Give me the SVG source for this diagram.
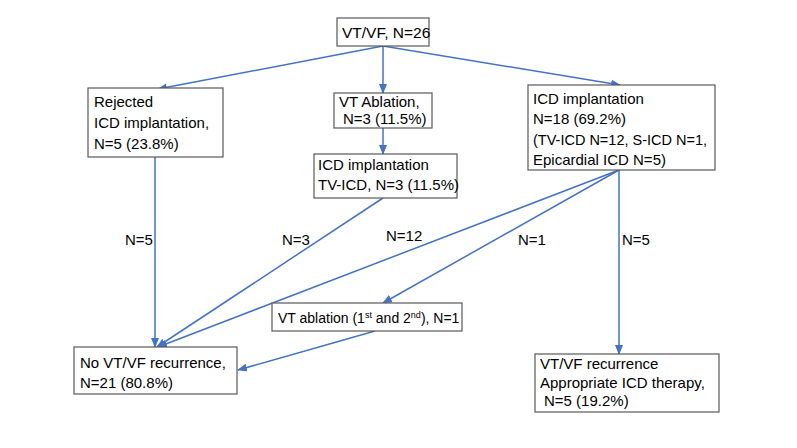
<svg xmlns="http://www.w3.org/2000/svg" width="797" height="448" viewBox="0 0 797 448">
<style>
.box{fill:#fff;stroke:#595959;stroke-width:1.2}
.t{font-family:"Liberation Sans",Arial,sans-serif;font-size:15px;fill:#000}
.c{fill:none;stroke:#4472C4;stroke-width:1.5}
.sup{font-size:9px}
</style>
<defs>
<marker id="ah" markerUnits="userSpaceOnUse" markerWidth="10" markerHeight="8" refX="9" refY="4" orient="auto">
<path d="M0,0 L10,4 L0,8 Z" fill="#4472C4"/>
</marker>
</defs>
<rect width="797" height="448" fill="#fff"/>
<g id="connectors">
<line class="c" x1="383" y1="46" x2="158" y2="89" marker-end="url(#ah)"/>
<line class="c" x1="383" y1="46" x2="383" y2="93" marker-end="url(#ah)"/>
<line class="c" x1="383" y1="46" x2="620" y2="85" marker-end="url(#ah)"/>
<line class="c" x1="383" y1="128" x2="383" y2="154" marker-end="url(#ah)"/>
<line class="c" x1="155" y1="157" x2="155" y2="347" marker-end="url(#ah)"/>
<line class="c" x1="383" y1="198" x2="157" y2="347" marker-end="url(#ah)"/>
<line class="c" x1="619" y1="170" x2="158" y2="347" marker-end="url(#ah)"/>
<line class="c" x1="619" y1="170" x2="383" y2="303" marker-end="url(#ah)"/>
<line class="c" x1="619" y1="170" x2="619" y2="354" marker-end="url(#ah)"/>
<line class="c" x1="375" y1="331" x2="238" y2="370" marker-end="url(#ah)"/>
<text class="t" x="125" y="245">N=5</text>
<text class="t" x="282" y="245">N=3</text>
<text class="t" x="386" y="241">N=12</text>
<text class="t" x="518" y="245">N=1</text>
<text class="t" x="622" y="245">N=5</text>
</g>
<g id="n_vtvf">
<rect class="box" x="337" y="18" width="92" height="28"/>
<text class="t" x="342" y="38" style="font-size:15.5px">VT/VF, N=26</text>
</g>
<g id="n_rejected">
<rect class="box" x="88" y="88" width="135" height="69"/>
<text class="t" x="94" y="107">Rejected</text>
<text class="t" x="94" y="128">ICD implantation,</text>
<text class="t" x="94" y="149">N=5 (23.8%)</text>
</g>
<g id="n_ablation">
<rect class="box" x="334" y="93" width="98" height="35"/>
<text class="t" x="339" y="107">VT Ablation,</text>
<text class="t" x="343" y="124">N=3 (11.5%)</text>
</g>
<g id="n_tvicd">
<rect class="box" x="314" y="154" width="143" height="44"/>
<text class="t" x="318" y="170">ICD implantation</text>
<text class="t" x="318" y="190">TV-ICD, N=3 (11.5%)</text>
</g>
<g id="n_icd">
<rect class="box" x="528" y="85" width="187" height="85"/>
<text class="t" x="533" y="104">ICD implantation</text>
<text class="t" x="533" y="124">N=18 (69.2%)</text>
<text class="t" x="533" y="145" style="font-size:14.5px">(TV-ICD N=12, S-ICD N=1,</text>
<text class="t" x="533" y="165">Epicardial ICD N=5)</text>
</g>
<g id="n_vtabl2">
<rect class="box" x="272" y="303" width="190" height="28"/>
<text class="t" x="278" y="323" style="font-size:14px">VT ablation (1<tspan class="sup" dy="-5">st</tspan><tspan dy="5"> and 2</tspan><tspan class="sup" dy="-5">nd</tspan><tspan dy="5">), N=1</tspan></text>
</g>
<g id="n_norec">
<rect class="box" x="74" y="347" width="163" height="47"/>
<text class="t" x="80" y="368">No VT/VF recurrence,</text>
<text class="t" x="80" y="388">N=21 (80.8%)</text>
</g>
<g id="n_rec">
<rect class="box" x="535" y="354" width="184" height="58"/>
<text class="t" x="540" y="369">VT/VF recurrence</text>
<text class="t" x="540" y="388">Appropriate ICD therapy,</text>
<text class="t" x="544" y="406">N=5 (19.2%)</text>
</g>
</svg>
